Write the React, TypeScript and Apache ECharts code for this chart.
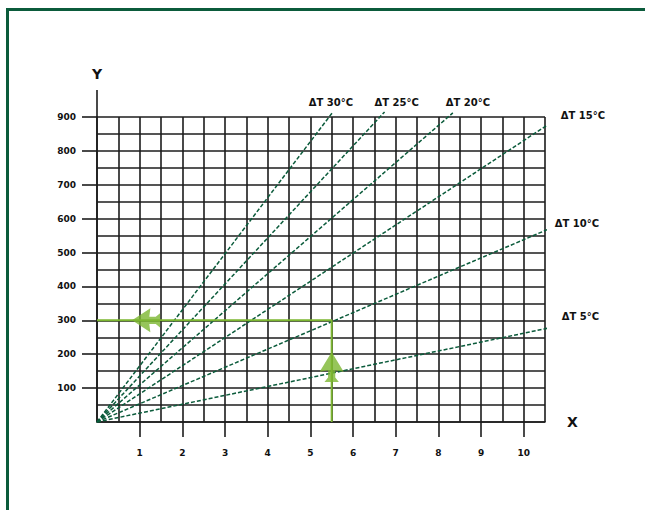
import React, { useEffect, useRef } from "react";
import * as echarts from "echarts";

const xTickValues = [1, 2, 3, 4, 5, 6, 7, 8, 9, 10];
const yTickValues = [100, 200, 300, 400, 500, 600, 700, 800, 900];
const deltaTNames = ["ΔT 30°C", "ΔT 25°C", "ΔT 20°C", "ΔT 15°C", "ΔT 10°C", "ΔT 5°C"];
const lineEndX = [5.53, 6.74, 8.34, 10.55, 10.69, 10.69];
const lineEndY = [915, 915, 912, 876, 575, 280];
const readingX = 5.5;
const readingY = 300;
const arrowLeftAt = [1.15, 300];
const arrowUpAt = [5.5, 162];

// label placement (style only)
const labelPlace = [
  { align: "center", verticalAlign: "bottom", offset: [-2, -4] },
  { align: "center", verticalAlign: "bottom", offset: [12, -4] },
  { align: "center", verticalAlign: "bottom", offset: [15, -5] },
  { align: "right", verticalAlign: "middle", offset: [58, -10] },
  { align: "right", verticalAlign: "middle", offset: [52, -6] },
  { align: "right", verticalAlign: "middle", offset: [52, -12] },
];

const DARK = "#0b5b3b";
const LIGHT = "#7cb631";
const GRIDC = "#1c1c1c";
const FONT = "DejaVu Sans";

const arrowPath =
  "path://M10,0 L20,17 L13,16 L13,22 L16,26 L4,26 L7,22 L7,16 L0,17 Z";

const textStyle = (size: number) => ({
  color: "#111",
  fontFamily: FONT,
  fontWeight: "bold",
  fontSize: size,
});

export default function App() {
  const ref = useRef<HTMLDivElement>(null);
  useEffect(() => {
    const chart = echarts.init(ref.current!, null, { renderer: "svg" });
    const lineSeries = deltaTNames.map((name, i) => ({
      type: "line",
      name,
      data: [
        [0, 0],
        [lineEndX[i], lineEndY[i]],
      ],
      symbol: "none",
      clip: false,
      z: 5,
      lineStyle: { color: DARK, width: 1.5, type: [4, 2] },
      endLabel: {
        show: true,
        formatter: "{a}",
        distance: 0,
        align: labelPlace[i].align,
        verticalAlign: labelPlace[i].verticalAlign,
        offset: labelPlace[i].offset,
        ...textStyle(10),
      },
    }));
    const gridLine = { show: true, lineStyle: { color: GRIDC, width: 1.6 } };
    chart.setOption({
      animation: false,
      backgroundColor: "#fff",
      grid: { left: 97, top: 117, right: 100, bottom: 88 },
      xAxis: [
        {
          type: "value",
          position: "bottom",
          min: 0,
          max: 10.5,
          interval: 0.5,
          axisLine: gridLine,
          axisTick: { show: false },
          axisLabel: { show: false },
          splitLine: gridLine,
        },
        {
          type: "value",
          position: "bottom",
          min: 0,
          max: 10.5,
          interval: 0.5,
          name: "X",
          nameLocation: "end",
          nameGap: 22,
          nameTextStyle: textStyle(14),
          axisLine: { show: false },
          axisTick: {
            show: true,
            customValues: xTickValues,
            length: 15,
            lineStyle: { color: GRIDC, width: 1.6 },
          },
          axisLabel: { show: true, customValues: xTickValues, margin: 26, ...textStyle(9) },
          splitLine: { show: false },
        },
      ],
      yAxis: [
        {
          type: "value",
          position: "left",
          min: 0,
          max: 900,
          interval: 50,
          axisLine: gridLine,
          axisTick: { show: false },
          axisLabel: { show: false },
          splitLine: gridLine,
        },
        {
          type: "value",
          position: "left",
          min: 0,
          max: 900,
          interval: 50,
          name: "Y",
          nameLocation: "end",
          nameGap: 36,
          nameTextStyle: textStyle(14),
          axisLine: { show: false },
          axisTick: {
            show: true,
            customValues: yTickValues,
            length: 15,
            lineStyle: { color: GRIDC, width: 1.6 },
          },
          axisLabel: {
            show: true,
            customValues: yTickValues,
            margin: 21,
            padding: [0, 0, 9, 0],
            ...textStyle(9),
          },
          splitLine: { show: false },
        },
      ],
      graphic: [
        {
          type: "rect",
          shape: { x: 7.5, y: 9.5, width: 700, height: 600 },
          style: { fill: "none", stroke: DARK, lineWidth: 3 },
          silent: true,
        },
        {
          type: "line",
          shape: { x1: 97, y1: 90, x2: 97, y2: 117 },
          style: { stroke: GRIDC, lineWidth: 1.6 },
          silent: true,
        },
      ],
      series: [
        ...lineSeries,
        {
          type: "line",
          data: [
            [0, readingY],
            [readingX, readingY],
            [readingX, 0],
          ],
          symbol: "none",
          z: 6,
          lineStyle: { color: LIGHT, width: 2 },
        },
        {
          type: "scatter",
          z: 7,
          symbol: arrowPath,
          itemStyle: { color: LIGHT },
          data: [
            { value: arrowLeftAt, symbolRotate: 90, symbolSize: [24, 28] },
            { value: arrowUpAt, symbolRotate: 0, symbolSize: [24, 30] },
          ],
        },
      ],
    });
    return () => chart.dispose();
  }, []);
  return (
    <div
      ref={ref}
      style={{ position: "absolute", left: 0, top: 0, width: 645, height: 510, background: "#fff" }}
    />
  );
}
